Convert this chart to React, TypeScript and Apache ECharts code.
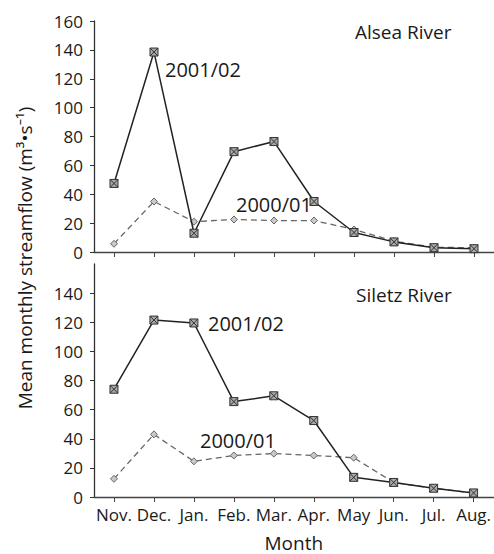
import React, { useEffect, useRef } from "react";
import * as echarts from "echarts";

const months = ["Nov.", "Dec.", "Jan.", "Feb.", "Mar.", "Apr.", "May", "Jun.", "Jul.", "Aug."];
const alsea0102 = [47.5, 138.5, 13, 69.5, 76.5, 35, 13.5, 7, 3, 2.3];
const alsea0001 = [5.7, 35, 21, 22.5, 21.8, 21.8, 15.6, 7.5, 3.3, 2.9];
const siletz0102 = [74, 121.5, 119.5, 65.5, 69.5, 52.5, 13.5, 10, 6, 2.8];
const siletz0001 = [12.5, 43, 24.5, 28.5, 29.8, 28.5, 27, 10, 6, 2.8];
const yTicks = { min: 0, max: 160, interval: 20 };
const seriesNames = ["2001/02", "2000/01"];
const riverNames = ["Alsea River", "Siletz River"];
const yTitle = "Mean monthly streamflow (m³•s⁻¹)";
const xTitle = "Month";

const FONT = "'Open Sans', 'Noto Sans', sans-serif";
const squareX = "path://M0 0H10V10H0Z M0 0L10 10 M10 0L0 10";

export default function App() {
  const ref = useRef<HTMLDivElement>(null);
  useEffect(() => {
    if (!ref.current) return;
    const chart = echarts.init(ref.current, undefined, { renderer: "svg" });
    const yAxisBase = (gridIndex: number, hideMax: boolean) => ({
      type: "value",
      gridIndex,
      min: yTicks.min,
      max: yTicks.max,
      interval: yTicks.interval,
      splitLine: { show: false },
      axisLine: { show: true, lineStyle: { color: "#333", width: 1.3 } },
      axisTick: { show: true, length: 4, lineStyle: { color: "#333" } },
      axisLabel: {
        color: "#1a1a1a",
        fontFamily: FONT,
        fontSize: 17,
        margin: 11,
        showMaxLabel: !hideMax,
      },
    });
    const xAxisBase = (gridIndex: number, showLabels: boolean) => ({
      type: "category",
      gridIndex,
      data: months,
      boundaryGap: true,
      axisLine: { show: true, lineStyle: { color: "#444", width: 1.3 } },
      axisTick: { show: true, alignWithLabel: true, length: 5, lineStyle: { color: "#444" } },
      axisLabel: {
        show: showLabels,
        color: "#1a1a1a",
        fontFamily: FONT,
        fontSize: 17,
        margin: 9,
        interval: 0,
      },
    });
    const solid = (xi: number, data: number[]) => ({
      type: "line",
      name: seriesNames[0],
      xAxisIndex: xi,
      yAxisIndex: xi,
      data,
      symbol: squareX,
      symbolSize: 8,
      lineStyle: { color: "#222", width: 1.5 },
      itemStyle: { color: "#a8a8a8", borderColor: "#333", borderWidth: 1 },
      z: 3,
    });
    const dashed = (xi: number, data: number[]) => ({
      type: "line",
      name: seriesNames[1],
      xAxisIndex: xi,
      yAxisIndex: xi,
      data,
      symbol: "diamond",
      symbolSize: 7,
      lineStyle: { color: "#666", width: 1.3, type: [6, 4] },
      itemStyle: { color: "#c8c8c8", borderColor: "#666", borderWidth: 1 },
      z: 2,
    });
    const txt = (text: string, x: number, y: number, size: number) => ({
      type: "text",
      x,
      y,
      style: {
        text,
        fill: "#1a1a1a",
        font: `${size}px ${FONT}`,
        textAlign: "left",
        textVerticalAlign: "middle",
      },
    });
    chart.setOption({
      animation: false,
      backgroundColor: "#ffffff",
      grid: [
        { left: 94, right: 0, top: 21, height: 231 },
        { left: 94, right: 0, top: 264, height: 233 },
      ],
      xAxis: [
        xAxisBase(0, false),
        {
          ...xAxisBase(1, true),
          name: xTitle,
          nameLocation: "middle",
          nameGap: 36,
          nameTextStyle: { color: "#1a1a1a", fontFamily: FONT, fontSize: 19 },
        },
      ],
      yAxis: [yAxisBase(0, false), yAxisBase(1, true)],
      series: [
        dashed(0, alsea0001),
        solid(0, alsea0102),
        dashed(1, siletz0001),
        solid(1, siletz0102),
      ],
      graphic: [
        txt(riverNames[0], 355, 32, 19),
        txt(riverNames[1], 356, 295, 19),
        txt(seriesNames[0], 165, 69, 20),
        txt(seriesNames[1], 236, 204, 20),
        txt(seriesNames[0], 208, 323, 20),
        txt(seriesNames[1], 200, 440, 20),
        {
          type: "text",
          x: 25,
          y: 258,
          rotation: Math.PI / 2,
          style: {
            text: yTitle,
            fill: "#1a1a1a",
            font: `19px ${FONT}`,
            textAlign: "center",
            textVerticalAlign: "middle",
          },
        },
      ],
    });
    return () => chart.dispose();
  }, []);
  return (
    <div
      ref={ref}
      style={{ position: "fixed", left: 0, top: 0, width: 494, height: 554, background: "#fff" }}
    />
  );
}
